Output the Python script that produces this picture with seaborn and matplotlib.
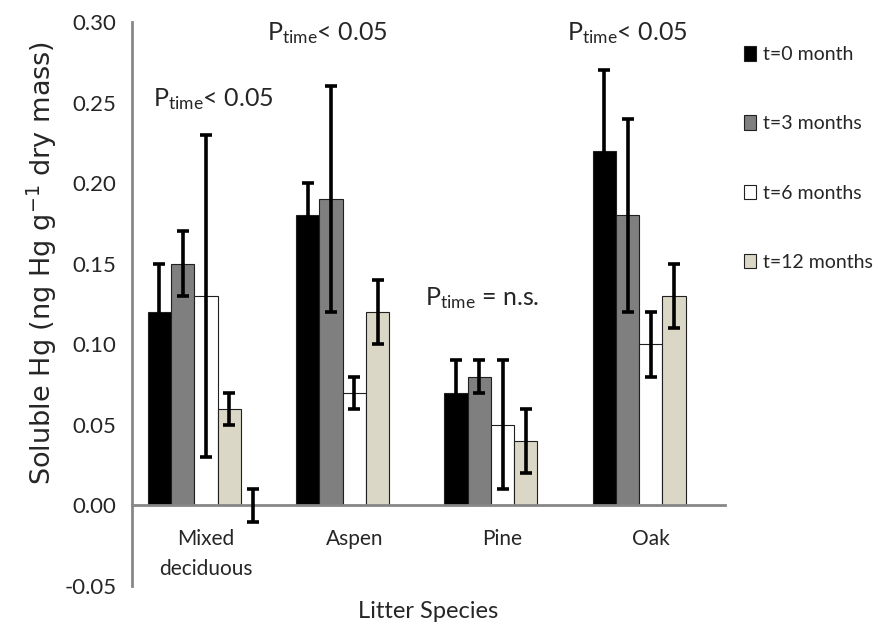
import numpy as np
import pandas as pd
import seaborn as sns
import matplotlib.pyplot as plt

species = ["Mixed\ndeciduous", "Aspen", "Pine", "Oak"]
times = ["t=0 month", "t=3 months", "t=6 months", "t=12 months", "blank"]

t0 = [0.12, 0.18, 0.07, 0.22]
t0_err = [0.03, 0.02, 0.02, 0.05]
t3 = [0.15, 0.19, 0.08, 0.18]
t3_err = [0.02, 0.07, 0.01, 0.06]
t6 = [0.13, 0.07, 0.05, 0.10]
t6_err = [0.10, 0.01, 0.04, 0.02]
t12 = [0.06, 0.12, 0.04, 0.13]
t12_err = [0.01, 0.02, 0.02, 0.02]
# empty fifth series in the original sheet, only an error bar shows for Mixed
blank = [0.0, 0.0, 0.0, 0.0]
blank_err = [0.01, np.nan, np.nan, np.nan]

colors = ["#000000", "#7f7f7f", "#ffffff", "#ddd9c3", "#ffffff"]

values = [t0, t3, t6, t12, blank]
errors = [t0_err, t3_err, t6_err, t12_err, blank_err]

rows = []
for t, vals in zip(times, values):
    for s, v in zip(species, vals):
        rows.append({"species": s, "time": t, "value": v})
df = pd.DataFrame(rows)

sns.set_style("white")
plt.rcParams["font.family"] = ["Lato", "DejaVu Sans"]
plt.rcParams["mathtext.default"] = "regular"

fig = plt.figure(figsize=(8.79, 6.34), dpi=100)
ax = fig.add_axes([0.150, 0.0757, 0.6748, 0.8896])

sns.barplot(data=df, x="species", y="value", hue="time", hue_order=times,
            order=species, palette=dict(zip(times, colors)), width=0.785,
            edgecolor="#202020", linewidth=0.8, errorbar=None, legend=False,
            ax=ax, zorder=2)

# hide the empty fifth series bars
for p in ax.containers[4]:
    p.set_visible(False)

# error bars at the bar centres
for cont, vals, errs in zip(ax.containers, values, errors):
    xs = [p.get_x() + p.get_width() / 2 for p in cont]
    for x, v, e in zip(xs, vals, errs):
        if np.isnan(e):
            continue
        ax.errorbar(x, v, yerr=e, fmt="none", ecolor="black", elinewidth=2.6,
                    capsize=4, capthick=2.6, zorder=5)

ax.set_ylim(-0.05, 0.30)
ax.set_xlim(-0.5, 3.5)
ax.set_yticks(np.arange(-0.05, 0.301, 0.05))
ax.set_yticklabels([f"{v:.2f}" for v in np.arange(-0.05, 0.301, 0.05)])

ax.spines["top"].set_visible(False)
ax.spines["right"].set_visible(False)
ax.spines["bottom"].set_position(("data", 0))
for sp in ["left", "bottom"]:
    ax.spines[sp].set_color("#878787")
    ax.spines[sp].set_linewidth(2)

ax.set_xticks([-0.5, 0.5, 1.5, 2.5, 3.5], minor=True)
ax.tick_params(axis="x", which="major", length=0, labelsize=15, pad=17)
ax.tick_params(axis="x", which="minor", length=7, width=2, color="#878787", direction="out")
ax.tick_params(axis="y", length=5, width=2, color="#878787", labelsize=16, pad=6)
for lbl in ax.get_xticklabels():
    lbl.set_linespacing(1.6)

ax.set_xlabel("Litter Species", fontsize=17, va="top")
ax.xaxis.set_label_coords(0.5, -0.026)
ax.set_ylabel("Soluble Hg (ng Hg g$^{-1}$ dry mass)", fontsize=19.5,
              family="DejaVu Sans")
ax.yaxis.set_label_coords(-0.123, 0.573)

ax.text(0.05, 0.252, "P$_{time}$< 0.05", fontsize=18, ha="center", va="center")
ax.text(0.82, 0.293, "P$_{time}$< 0.05", fontsize=18, ha="center", va="center")
ax.text(1.86, 0.129, "P$_{time}$ = n.s.", fontsize=18, ha="center", va="center")
ax.text(2.84, 0.293, "P$_{time}$< 0.05", fontsize=18, ha="center", va="center")

handles = [ax.containers[i][0] for i in range(4)]
ax.legend(handles, times[:4], loc="upper left", bbox_to_anchor=(0.846, 0.927),
          bbox_transform=fig.transFigure, frameon=False, fontsize=14,
          handlelength=0.65, handleheight=0.75, handletextpad=0.35,
          labelspacing=2.68, borderpad=0, borderaxespad=0)

fig.savefig("out.png", dpi=100)
